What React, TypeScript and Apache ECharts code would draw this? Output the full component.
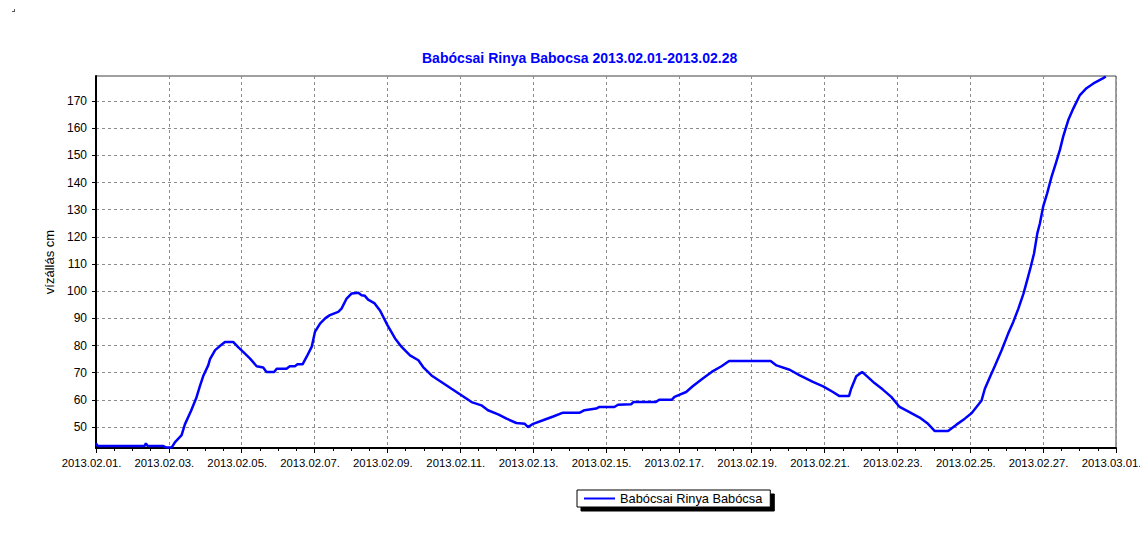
import React, { useEffect, useRef } from "react";
import * as echarts from "echarts";

const chartTitle = "Babócsai Rinya Babocsa 2013.02.01-2013.02.28";
const seriesName = "Babócsai Rinya Babócsa";
const yAxisName = "vízállás cm";

// Days elapsed since 2013.02.01 00:00
const dayOffsets = [
  0, 0.05, 1.33, 1.37, 1.42, 1.85, 1.92, 2.08, 2.17, 2.35, 2.44, 2.61, 2.76, 2.85, 2.95,
  3.08, 3.13, 3.27, 3.4, 3.54, 3.77, 3.91, 4.09, 4.23, 4.41, 4.59, 4.68, 4.89, 4.96, 5.23,
  5.32, 5.46, 5.53, 5.67, 5.78, 5.92, 6.01, 6.15, 6.29, 6.42, 6.65, 6.74, 6.88, 7.02, 7.2,
  7.29, 7.38, 7.47, 7.65, 7.8, 8.0, 8.21, 8.39, 8.62, 8.85, 8.98, 9.21, 9.48, 9.76, 10.03,
  10.31, 10.58, 10.76, 11.04, 11.27, 11.54, 11.77, 11.86, 12.0, 12.27, 12.55, 12.82, 13.28,
  13.41, 13.73, 13.82, 14.23, 14.33, 14.69, 14.75, 15.37, 15.46, 15.81, 15.88, 16.2, 16.38,
  16.62, 16.9, 17.17, 17.38, 18.52, 18.68, 19.04, 19.32, 19.68, 19.96, 20.23, 20.41, 20.67,
  20.73, 20.87, 21.03, 21.19, 21.37, 21.6, 21.83, 22.06, 22.33, 22.61, 22.84, 23.02, 23.39,
  23.62, 23.85, 24.04, 24.17, 24.31, 24.4, 24.54, 24.68, 24.86, 25.04, 25.18, 25.32, 25.46,
  25.56, 25.66, 25.75, 25.84, 25.91, 26.0, 26.11, 26.23, 26.35, 26.46, 26.55, 26.69, 26.83,
  27.01, 27.19, 27.42, 27.65, 27.72,
];

// Water level (cm)
const levels = [
  44, 43, 43, 44, 43, 43, 42.5, 42.5, 44.5, 47, 51, 56, 61, 65, 69,
  72.7, 75, 78.3, 79.8, 81.3, 81.3, 79.3, 77, 75.2, 72.4, 71.9, 70.3, 70.3, 71.5, 71.5,
  72.4, 72.4, 73.1, 73.1, 75.8, 79.5, 85, 88.1, 90, 91.2, 92.4, 93.6, 97.3, 99.2, 99.4,
  98.5, 98.3, 96.9, 95.5, 92.8, 87.5, 82.6, 79.5, 76.4, 74.6, 72.1, 69, 66.6, 64.1, 61.7,
  59.2, 58, 56.2, 54.7, 53.1, 51.5, 51.2, 50, 51.2, 52.5, 53.9, 55.3, 55.3,
  56.2, 56.8, 57.4, 57.4, 58.2, 58.4, 59.2, 59.2, 60.1, 60.1, 61.1, 62.9, 65,
  67.5, 70.3, 72.4, 74.3, 74.3, 72.7, 71.1, 69, 66.6, 65, 62.9, 61.4, 61.4,
  64.1, 68.7, 70.3, 68.4, 66.2, 63.8, 61.1, 57.4, 55.5, 53.5, 51.2, 48.6, 48.6,
  50.9, 53.1, 55.2, 57.4, 59.8, 64.1, 68.4, 72.7, 78.3, 84.4, 88.7, 93.6, 99.1,
  104, 109, 113.9, 121.3, 124.9, 131.1, 136, 142.1, 147.1, 152, 156.9, 163, 167.3,
  172.2, 174.7, 176.8, 178.4, 179,
];

const xTickLabels = [
  "2013.02.01.", "2013.02.03.", "2013.02.05.", "2013.02.07.", "2013.02.09.",
  "2013.02.11.", "2013.02.13.", "2013.02.15.", "2013.02.17.", "2013.02.19.",
  "2013.02.21.", "2013.02.23.", "2013.02.25.", "2013.02.27.", "2013.03.01.",
];
const yTickValues = [50, 60, 70, 80, 90, 100, 110, 120, 130, 140, 150, 160, 170];

const FONT = "'Liberation Sans', Arial, sans-serif";

export default function App() {
  const ref = useRef<HTMLDivElement>(null);

  useEffect(() => {
    if (!ref.current) return;
    const chart = echarts.init(ref.current, undefined, { renderer: "svg" });
    const data = dayOffsets.map((d, i) => [d, levels[i]]);
    const gridLine = { show: true, lineStyle: { color: "#8c8c8c", width: 1, type: [3, 3] as any } };

    chart.setOption({
      animation: false,
      backgroundColor: "#ffffff",
      textStyle: { fontFamily: FONT },
      title: {
        text: chartTitle,
        left: 422,
        top: 51,
        padding: 0,
        textStyle: { fontFamily: FONT, fontSize: 14, fontWeight: "bold", color: "#0000ff" },
      },
      legend: {
        left: 577,
        top: 490,
        orient: "horizontal",
        padding: [2, 8, 2, 7],
        icon: "rect",
        itemWidth: 31,
        itemHeight: 2,
        itemGap: 0,
        selectedMode: false,
        backgroundColor: "#ffffff",
        borderColor: "#000000",
        borderWidth: 1,
        borderRadius: 0,
        shadowColor: "#000000",
        shadowBlur: 0,
        shadowOffsetX: 4,
        shadowOffsetY: 4,
        itemStyle: { color: "#0000ff", borderWidth: 0 },
        textStyle: { fontFamily: FONT, fontSize: 12.8, color: "#000000" },
        data: [seriesName],
      },
      grid: {
        left: 96,
        right: 24,
        top: 76,
        bottom: 104,
        show: true,
        borderColor: "#404040",
        borderWidth: 1,
        backgroundColor: "#ffffff",
        outerBoundsMode: "none",
      },
      xAxis: {
        type: "value",
        min: 0,
        max: 28,
        interval: 2,
        axisLine: { show: true, onZero: false, lineStyle: { color: "#000000", width: 2 } },
        axisTick: { show: true, length: 5, lineStyle: { color: "#000000" } },
        minorTick: { show: true, splitNumber: 4, length: 3, lineStyle: { color: "#000000" } },
        splitLine: gridLine,
        axisLabel: {
          show: true,
          showMinLabel: true,
          showMaxLabel: true,
          margin: 9,
          padding: [0, 9, 0, 0],
          fontFamily: FONT,
          fontSize: 11.3,
          color: "#000000",
          formatter: (v: number) => xTickLabels[Math.round(v / 2)] ?? "",
        },
      },
      yAxis: {
        type: "value",
        min: 42.3,
        max: 179.2,
        name: yAxisName,
        nameLocation: "middle",
        nameGap: 38,
        nameRotate: 90,
        nameTextStyle: { fontFamily: FONT, fontSize: 13, color: "#000000" },
        axisLine: { show: true, onZero: false, lineStyle: { color: "#000000", width: 2 } },
        axisTick: { show: true, length: 4, customValues: yTickValues, lineStyle: { color: "#000000" } },
        splitLine: gridLine,
        axisLabel: {
          show: true,
          customValues: yTickValues,
          margin: 9,
          fontFamily: FONT,
          fontSize: 12,
          color: "#000000",
        },
      },
      graphic: [
        { type: "rect", left: 14, top: 9, shape: { width: 1, height: 3 }, style: { fill: "#555" } },
        { type: "rect", left: 12, top: 11, shape: { width: 3, height: 1 }, style: { fill: "#555" } },
      ],
      series: [
        {
          name: seriesName,
          type: "line",
          data,
          showSymbol: false,
          symbol: "none",
          clip: true,
          z: 5,
          lineStyle: { color: "#0000ff", width: 2.5 },
          itemStyle: { color: "#0000ff" },
        },
      ],
    });

    return () => chart.dispose();
  }, []);

  return (
    <div
      ref={ref}
      style={{ position: "absolute", left: 0, top: 0, width: 1140, height: 552, background: "#fff" }}
    />
  );
}
